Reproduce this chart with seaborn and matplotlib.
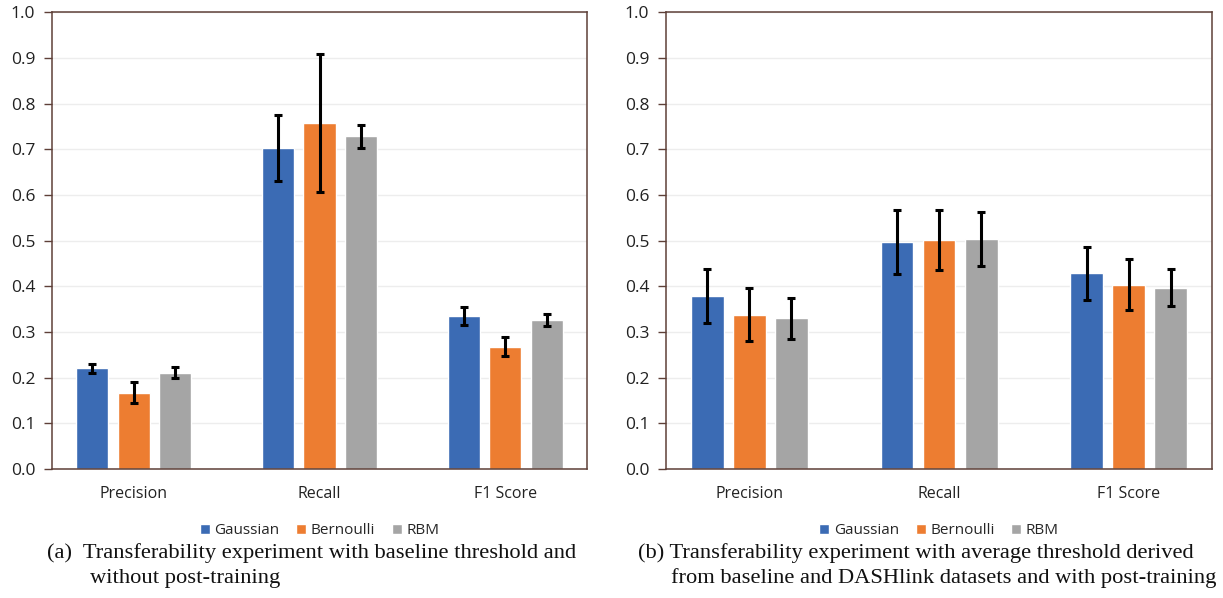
import pandas as pd
import matplotlib
matplotlib.use('Agg')
import matplotlib.pyplot as plt
import seaborn as sns

# --- data ---
metrics = ['Precision', 'Recall', 'F1 Score']
models = ['Gaussian', 'Bernoulli', 'RBM']

# (a) baseline threshold, no post-training
a_gaussian = [0.220, 0.703, 0.335]
a_bernoulli = [0.167, 0.758, 0.268]
a_rbm = [0.211, 0.728, 0.327]
a_gaussian_err = [0.010, 0.072, 0.019]
a_bernoulli_err = [0.023, 0.151, 0.021]
a_rbm_err = [0.012, 0.026, 0.013]

# (b) average threshold, with post-training
b_gaussian = [0.378, 0.497, 0.428]
b_bernoulli = [0.338, 0.501, 0.403]
b_rbm = [0.330, 0.504, 0.397]
b_gaussian_err = [0.059, 0.070, 0.059]
b_bernoulli_err = [0.058, 0.065, 0.056]
b_rbm_err = [0.045, 0.059, 0.041]

caption_a = ['(a)  Transferability experiment with baseline threshold and',
             'without post-training']
caption_b = ['(b) Transferability experiment with average threshold derived',
             'from baseline and DASHlink datasets and with post-training']

colors = ['#3B6BB4', '#ED7D31', '#A5A5A5']
spine_color = '#5E4038'


def long_frame(vals):
    rows = []
    for model, series in zip(models, vals):
        for metric, v in zip(metrics, series):
            rows.append({'metric': metric, 'model': model, 'value': v})
    return pd.DataFrame(rows)


def draw_panel(ax, vals, errs):
    df = long_frame(vals)
    sns.barplot(data=df, x='metric', y='value', hue='model', order=metrics,
                hue_order=models, palette=colors, width=0.666, gap=0.22,
                errorbar=None, saturation=1, ax=ax)
    for cont, err in zip(ax.containers, errs):
        xs = [b.get_x() + b.get_width() / 2 for b in cont]
        ys = [b.get_height() for b in cont]
        ax.errorbar(xs, ys, yerr=err, fmt='none', ecolor='black',
                    elinewidth=2.2, capsize=3, capthick=2.2, zorder=5)
    ax.set_ylim(0, 1.0)
    ax.set_yticks([i / 10 for i in range(11)])
    ax.set_yticklabels([f'{i / 10:.1f}' for i in range(11)])
    ax.set_xlabel('')
    ax.set_ylabel('')
    ax.grid(axis='y', color='#EDEDED', linewidth=1)
    ax.grid(axis='x', visible=False)
    ax.set_axisbelow(True)
    for s in ax.spines.values():
        s.set_color(spine_color)
        s.set_linewidth(1.1)
        s.set_visible(True)
    ax.tick_params(axis='x', length=0, pad=12, labelsize=11.5, colors='#222222')
    ax.tick_params(axis='y', length=6, width=1, color=spine_color, pad=6,
                   labelsize=12.5, labelcolor='#222222', left=True)
    ax.legend(loc='upper center', bbox_to_anchor=(0.5, -0.105), ncol=3,
              frameon=False, fontsize=11, handlelength=0.65, handleheight=0.65,
              handletextpad=0.3, columnspacing=1.1, borderaxespad=0)


sns.set_theme(style='white')
plt.rcParams['font.family'] = ['Open Sans', 'DejaVu Sans']

fig = plt.figure(figsize=(12.23, 5.98), dpi=100)
ax1 = fig.add_axes([0.0425, 0.2157, 0.4375, 0.764])
ax2 = fig.add_axes([0.5446, 0.2157, 0.4464, 0.764])

draw_panel(ax1, [a_gaussian, a_bernoulli, a_rbm],
           [a_gaussian_err, a_bernoulli_err, a_rbm_err])
draw_panel(ax2, [b_gaussian, b_bernoulli, b_rbm],
           [b_gaussian_err, b_bernoulli_err, b_rbm_err])

# captions, one text per line so the hanging indent matches
cap_kw = dict(ha='left', va='center', fontsize=16.2, family='Liberation Serif',
              color='#111111')
fig.text(47 / 1223, 1 - 553 / 598, caption_a[0], **cap_kw)
fig.text(90 / 1223, 1 - 578 / 598, caption_a[1], **cap_kw)
fig.text(638 / 1223, 1 - 553 / 598, caption_b[0], **cap_kw)
fig.text(671 / 1223, 1 - 578 / 598, caption_b[1], **cap_kw)

fig.savefig('out.png', dpi=100)
